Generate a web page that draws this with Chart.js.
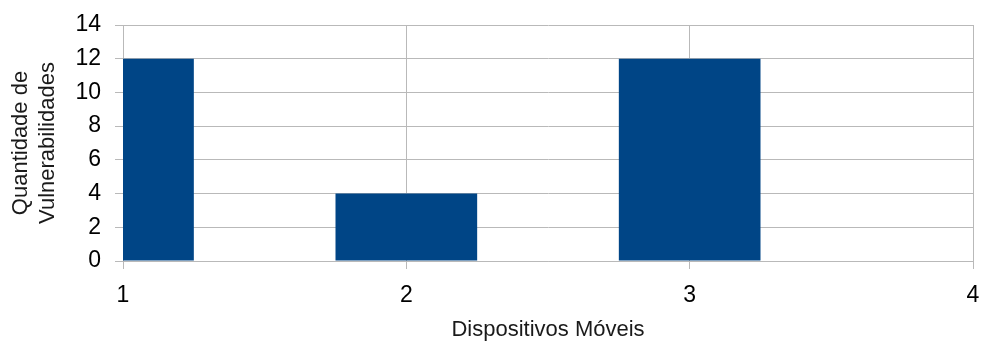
<!DOCTYPE html>
<html>
<head>
<meta charset="utf-8">
<script src="https://cdn.jsdelivr.net/npm/chart.js@4"></script>
<style>
  html, body { margin: 0; padding: 0; background: #fff; }
  #wrap { width: 982px; height: 343px; }
</style>
</head>
<body>
<div id="wrap"><canvas id="chart1"></canvas></div>
<script>
const devices = [1, 2, 3];
const vulnerabilities = [12, 4, 12];
const xTicks = [1, 2, 3, 4];
const yTicks = [0, 2, 4, 6, 8, 10, 12, 14];

const gridColor = '#b9b9b9';
const font = 'Liberation Sans, Arial, sans-serif';

const ctx1 = document.getElementById('chart1').getContext('2d');
new Chart(ctx1, {
    type: 'bar',
    data: {
        datasets: [{
            data: devices.map((d, i) => ({ x: d, y: vulnerabilities[i] })),
            backgroundColor: '#004586',
            borderWidth: 0,
            categoryPercentage: 1,
            barPercentage: 0.5
        }]
    },
    options: {
        responsive: true,
        maintainAspectRatio: false,
        animation: false,
        layout: { padding: { top: 25, right: 9, left: 0, bottom: 0 } },
        plugins: {
            legend: { display: false },
            tooltip: { enabled: false }
        },
        scales: {
            x: {
                type: 'linear',
                min: 1,
                max: 4,
                offset: false,
                afterBuildTicks: axis => { axis.ticks = xTicks.map(v => ({ value: v })); },
                afterFit: axis => {
                    axis.height = 82;
                    axis.paddingLeft = 0;
                    axis.paddingRight = 0;
                },
                grid: { color: gridColor, tickLength: 8, offset: false },
                border: { color: gridColor },
                ticks: { color: '#000', font: { family: font, size: 23 }, padding: 13, maxRotation: 0 },
                title: {
                    display: true,
                    text: 'Dispositivos Móveis',
                    color: '#1a1a1a',
                    font: { family: font, size: 22 },
                    padding: { top: 2, bottom: 0 }
                }
            },
            y: {
                min: 0,
                max: 14,
                afterBuildTicks: axis => { axis.ticks = yTicks.map(v => ({ value: v })); },
                afterFit: axis => {
                    axis.width = 123;
                    axis.paddingTop = 0;
                    axis.paddingBottom = 0;
                },
                grid: { color: gridColor, tickLength: 8 },
                border: { color: gridColor },
                ticks: { color: '#000', font: { family: font, size: 23 }, padding: 14 },
                title: {
                    display: true,
                    text: ['Quantidade de', 'Vulnerabilidades'],
                    color: '#1a1a1a',
                    font: { family: font, size: 22, lineHeight: 1.2 },
                    padding: { top: 8, bottom: 0 }
                }
            }
        }
    }
});
</script>
</body>
</html>
